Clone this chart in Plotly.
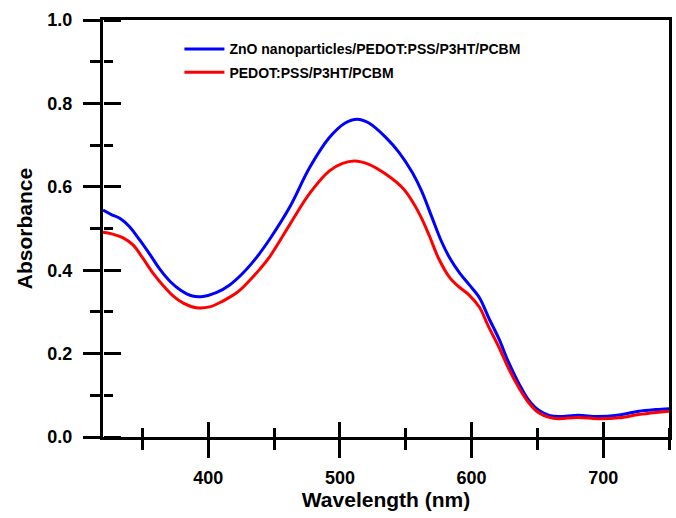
import plotly.graph_objects as go

wl_blue = [320, 326, 333, 340, 348, 356, 363, 371, 379, 388, 396, 406, 416, 426, 437, 447,
           462, 477, 492, 504, 513, 522, 535, 545, 555, 562, 570, 577, 584, 591, 598, 606,
           613, 621, 628, 636, 643, 651, 659, 666, 681, 696, 712, 727, 740, 750]
abs_blue = [0.544, 0.534, 0.524, 0.505, 0.472, 0.436, 0.403, 0.373, 0.352, 0.338, 0.337, 0.346,
            0.364, 0.392, 0.432, 0.476, 0.552, 0.646, 0.718, 0.753, 0.762, 0.753, 0.718, 0.682,
            0.634, 0.590, 0.526, 0.470, 0.426, 0.393, 0.366, 0.334, 0.286, 0.234, 0.180, 0.128,
            0.090, 0.064, 0.052, 0.049, 0.052, 0.049, 0.053, 0.062, 0.066, 0.068]

wl_red = [320, 328, 335, 343, 350, 358, 366, 373, 381, 391, 401, 411, 422, 431, 439, 447,
          462, 477, 492, 502, 511, 522, 535, 548, 556, 562, 568, 575, 583, 590, 598, 606,
          613, 621, 628, 636, 643, 651, 659, 666, 681, 696, 712, 727, 740, 750]
abs_red = [0.491, 0.486, 0.478, 0.460, 0.430, 0.393, 0.362, 0.339, 0.321, 0.310, 0.312, 0.326,
           0.347, 0.374, 0.402, 0.434, 0.510, 0.584, 0.638, 0.656, 0.662, 0.654, 0.630, 0.596,
           0.560, 0.525, 0.482, 0.428, 0.384, 0.361, 0.341, 0.311, 0.264, 0.214, 0.165, 0.118,
           0.084, 0.058, 0.047, 0.044, 0.047, 0.044, 0.046, 0.054, 0.059, 0.062]

name_blue = "ZnO nanoparticles/PEDOT:PSS/P3HT/PCBM"
name_red = "PEDOT:PSS/P3HT/PCBM"

x_range = [320, 750]
y_range = [0, 1.0]

FONT = "Liberation Sans, Arial, sans-serif"

fig = go.Figure()
fig.add_trace(go.Scatter(x=wl_blue, y=abs_blue, mode="lines", name=name_blue,
                         line=dict(color="#0000ff", width=3, shape="spline", smoothing=1.0),
                         legendgroup="a"))
fig.add_trace(go.Scatter(x=wl_red, y=abs_red, mode="lines", name=name_red,
                         line=dict(color="#ff0000", width=3, shape="spline", smoothing=1.0),
                         legendgroup="b"))

axis_common = dict(showgrid=False, zeroline=False, linecolor="black", linewidth=3,
                   tickcolor="black", tickwidth=3, automargin=False)

fig.update_layout(
    width=676, height=518,
    paper_bgcolor="white", plot_bgcolor="white",
    margin=dict(l=103, r=7, t=20, b=81),
    font=dict(family=FONT, color="black"),
    showlegend=True,
    legend=dict(x=0.135, y=0.968, xanchor="left", yanchor="top",
                font=dict(family=FONT, size=14, color="black", weight="bold"),
                bgcolor="rgba(0,0,0,0)", tracegroupgap=2, itemwidth=40),
    xaxis=dict(range=x_range, tick0=400, dtick=100, ticks="outside", ticklen=18,
               mirror=True, showline=True, ticklabelstandoff=4,
               minor=dict(dtick=50, tick0=350, ticks="outside", ticklen=10, tickwidth=3, tickcolor="black"),
               tickfont=dict(family=FONT, size=18, weight="bold"),
               title=dict(text="Wavelength (nm)", font=dict(family=FONT, size=21, weight="bold"), standoff=5),
               **axis_common),
    # second x axis drawn on the bottom edge with ticks pointing up (inner half of crossing ticks)
    xaxis2=dict(range=x_range, overlaying="x", anchor="free", position=0, side="top",
                tick0=400, dtick=100, ticks="outside", ticklen=15,
                showticklabels=False, showline=False,
                minor=dict(dtick=50, tick0=350, ticks="outside", ticklen=9, tickwidth=3, tickcolor="black"),
                **axis_common),
    yaxis=dict(range=y_range, tick0=0, dtick=0.2, tickformat=".1f", ticks="outside", ticklen=17,
               mirror=True, showline=True, ticklabelstandoff=7,
               minor=dict(dtick=0.1, ticks="outside", ticklen=10, tickwidth=3, tickcolor="black"),
               tickfont=dict(family=FONT, size=18, weight="bold"),
               title=dict(text="Absorbance", font=dict(family=FONT, size=21, weight="bold"), standoff=10),
               **axis_common),
    yaxis2=dict(range=y_range, overlaying="y", anchor="free", position=0, side="right",
                tick0=0, dtick=0.2, ticks="outside", ticklen=17,
                showticklabels=False, showline=False,
                minor=dict(dtick=0.1, ticks="outside", ticklen=9, tickwidth=3, tickcolor="black"),
                **axis_common),
)

# invisible helper trace to activate the overlay axes (inner tick halves)
fig.add_trace(go.Scatter(x=[x_range[0]], y=[y_range[0]], xaxis="x2", yaxis="y2",
                         mode="markers", marker=dict(opacity=0), showlegend=False, hoverinfo="skip"))

fig.write_html("out.html", config={"displayModeBar": False},
               post_script="document.body.style.margin='0';")
